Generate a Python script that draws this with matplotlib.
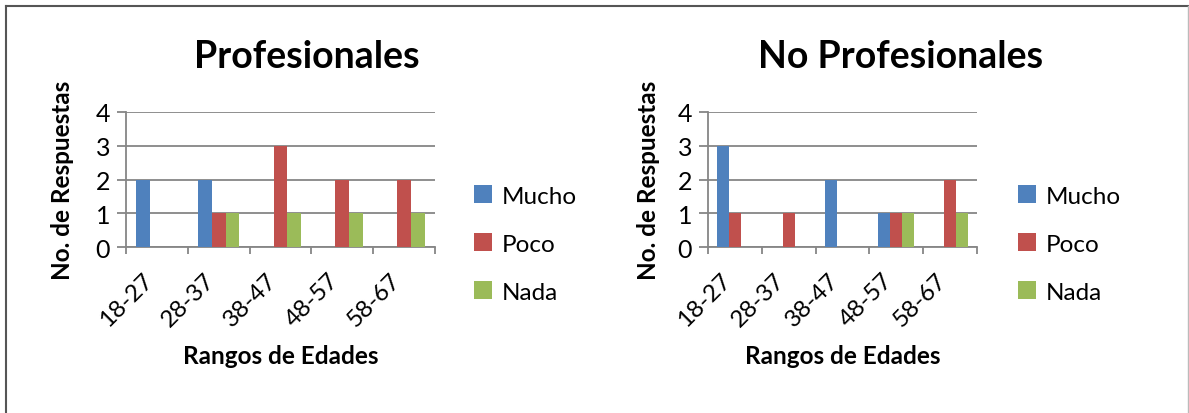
import matplotlib
matplotlib.use("Agg")
import matplotlib.pyplot as plt
from matplotlib.lines import Line2D
import numpy as np

categories = ["18-27", "28-37", "38-47", "48-57", "58-67"]
series_names = ["Mucho", "Poco", "Nada"]
prof_mucho = [2, 2, 0, 0, 0]
prof_poco = [0, 1, 3, 2, 2]
prof_nada = [0, 1, 1, 1, 1]
noprof_mucho = [3, 0, 2, 1, 0]
noprof_poco = [1, 1, 0, 1, 2]
noprof_nada = [0, 0, 0, 1, 1]
titles = ["Profesionales", "No Profesionales"]
xlabel = "Rangos de Edades"
ylabel = "No. de Respuestas"
yticks = [0, 1, 2, 3, 4]

colors = ["#4F81BD", "#C0504D", "#9BBB59"]
grid_c = "#868686"
FONT = "Lato"
plt.rcParams["font.family"] = [FONT, "DejaVu Sans"]

W, H = 1189, 414
fig = plt.figure(figsize=(W / 100, H / 100), dpi=100)

def px_rect(left, right, top, bottom):
    return [left / W, 1 - bottom / H, (right - left) / W, (bottom - top) / H]

axes_specs = [
    dict(rect=px_rect(126, 435, 113, 248), data=[prof_mucho, prof_poco, prof_nada],
         title_x=307, ylab_x=63, leg_x=474),
    dict(rect=px_rect(708, 977, 113, 248), data=[noprof_mucho, noprof_poco, noprof_nada],
         title_x=901, ylab_x=648, leg_x=1018),
]

bw = 1 / 4.5
x = np.arange(len(categories))
for spec, title in zip(axes_specs, titles):
    ax = fig.add_axes(spec["rect"])
    handles = []
    for i, (vals, c, name) in enumerate(zip(spec["data"], colors, series_names)):
        h = ax.bar(x + (i - 1) * bw, vals, width=bw, color=c, label=name, zorder=3)
        handles.append(h)
    ax.set_xlim(-0.5, len(categories) - 0.5)
    ax.set_ylim(0, 4)
    ax.set_yticks(yticks)
    ax.yaxis.grid(True, color=grid_c, linewidth=1.3, zorder=0)
    ax.set_axisbelow(True)
    for s in ["top", "right"]:
        ax.spines[s].set_visible(False)
    for s in ["left", "bottom"]:
        ax.spines[s].set_color(grid_c)
        ax.spines[s].set_linewidth(1.3)
    ax.tick_params(axis="y", length=6.5, width=1.3, color=grid_c, pad=5, labelsize=18)
    ax.set_xticks(x)
    ax.set_xticklabels(categories, rotation=45, ha="right", fontsize=17.5)
    ax.tick_params(axis="x", length=0, pad=16)
    ax.set_xticks(np.arange(len(categories) + 1) - 0.5, minor=True)
    ax.tick_params(axis="x", which="minor", length=5, width=1.3, color=grid_c)
    ax.set_xlabel(xlabel, fontsize=17.5, fontweight="bold", va="center")
    ax.xaxis.set_label_coords(0.5, -(357 - 248) / 135)
    ax.set_ylabel(ylabel, fontsize=17.5, fontweight="bold", va="center")
    l, b, w, hh = spec["rect"]
    ax.yaxis.set_label_coords((spec["ylab_x"] / W - l) / w, 0.5)
    fig.text(spec["title_x"] / W, 1 - 57 / H, title, fontsize=27, fontweight="bold",
             ha="center", va="center")
    leg = ax.legend(handles=handles, loc="center left",
                    bbox_to_anchor=(spec["leg_x"] / W, 1 - 245 / H),
                    bbox_transform=fig.transFigure, frameon=False, fontsize=17.5,
                    handlelength=0.75, handleheight=0.75, handletextpad=0.4,
                    labelspacing=1.1, borderaxespad=0, borderpad=0)

# outer frame
fig.add_artist(Line2D([6 / W, 6 / W], [0, 1 - 7 / H], transform=fig.transFigure,
                      color="#555555", linewidth=1.5))
fig.add_artist(Line2D([6 / W, 1188 / W], [1 - 7 / H, 1 - 7 / H], transform=fig.transFigure,
                      color="#555555", linewidth=1.5))
fig.add_artist(Line2D([1188 / W, 1188 / W], [0, 1 - 7 / H], transform=fig.transFigure,
                      color="#BBBBBB", linewidth=1.0))

fig.savefig("out.png", dpi=100)
